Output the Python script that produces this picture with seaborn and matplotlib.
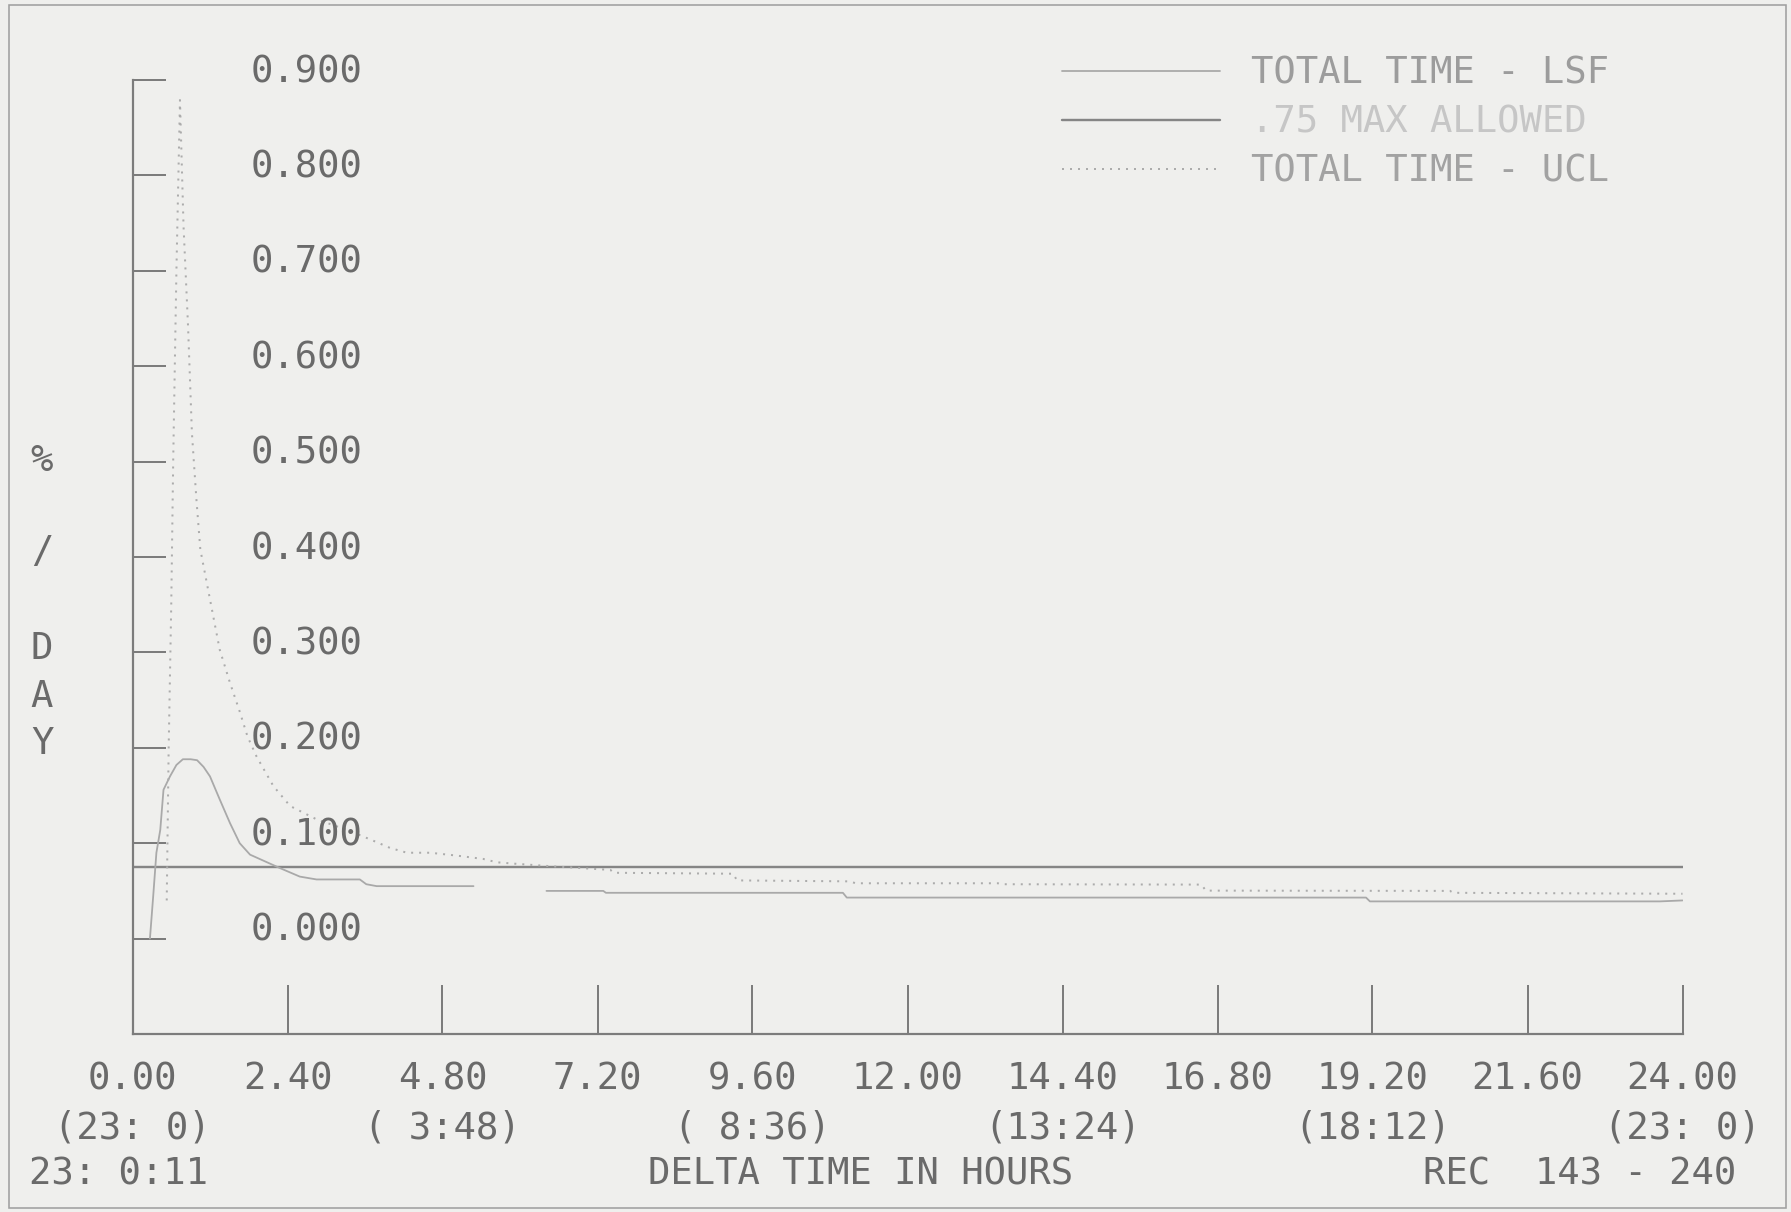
import numpy as np
import pandas as pd
import matplotlib
matplotlib.use("Agg")
import matplotlib.pyplot as plt
import seaborn as sns
from matplotlib.patches import Rectangle

# ---------------- data ----------------
lsf_hours = [0.27, 0.32, 0.37, 0.43, 0.48, 0.58, 0.68, 0.78, 0.90, 1.00,
             1.10, 1.20, 1.35, 1.51, 1.66, 1.82, 2.05, 2.28, 2.59, 2.85,
             3.52, 3.62, 3.78, 5.28,
             6.41, 7.29, 7.33, 11.00, 11.06, 19.10, 19.16, 23.65, 24.00]
lsf_values = [0.000, 0.044, 0.090, 0.114, 0.156, 0.170, 0.182, 0.188, 0.188, 0.187,
              0.180, 0.170, 0.146, 0.121, 0.100, 0.088, 0.081, 0.074, 0.065, 0.062,
              0.062, 0.057, 0.055, 0.055,
              0.050, 0.050, 0.048, 0.048, 0.043, 0.043, 0.039, 0.039, 0.040]
lsf_segment = [1] * 24 + [2] * 9

ucl_hours = [0.53, 0.56, 0.60, 0.63, 0.68, 0.735, 0.79, 0.86, 0.92, 0.99,
             1.05, 1.15, 1.25, 1.35, 1.51, 1.66, 1.78, 1.92, 2.18, 2.44,
             2.85, 3.32, 3.68, 3.99, 4.25, 4.61, 5.02, 5.43, 5.64, 5.90,
             6.45, 7.40, 7.45, 9.30, 9.36, 11.10, 11.20, 13.40, 13.45, 16.55,
             16.62, 20.40, 20.45, 24.00]
ucl_values = [0.040, 0.200, 0.350, 0.500, 0.700, 0.879, 0.747, 0.642, 0.530, 0.460,
              0.408, 0.373, 0.338, 0.303, 0.268, 0.238, 0.212, 0.191, 0.160, 0.139,
              0.125, 0.114, 0.104, 0.095, 0.090, 0.090, 0.087, 0.0835, 0.080, 0.0786,
              0.076, 0.072, 0.069, 0.068, 0.061, 0.060, 0.058, 0.058, 0.057, 0.0566,
              0.0503, 0.050, 0.048, 0.047]

max_hours = [0.0, 24.0]
max_values = [0.075, 0.075]

x_ticks = [0.0, 2.4, 4.8, 7.2, 9.6, 12.0, 14.4, 16.8, 19.2, 21.6, 24.0]
x_tick_labels = ["0.00", "2.40", "4.80", "7.20", "9.60", "12.00",
                 "14.40", "16.80", "19.20", "21.60", "24.00"]
clock_ticks = [0.0, 4.8, 9.6, 14.4, 19.2, 24.0]
clock_labels = ["(23: 0)", "( 3:48)", "( 8:36)", "(13:24)", "(18:12)", "(23: 0)"]
y_ticks = [0.0, 0.1, 0.2, 0.3, 0.4, 0.5, 0.6, 0.7, 0.8, 0.9]
y_tick_labels = ["0.000", "0.100", "0.200", "0.300", "0.400",
                 "0.500", "0.600", "0.700", "0.800", "0.900"]
legend_labels = ["TOTAL TIME - LSF", ".75 MAX ALLOWED", "TOTAL TIME - UCL"]
y_label_chars = ["%", "/", "D", "A", "Y"]
footer_left = "23: 0:11"
footer_mid = "DELTA TIME IN HOURS"
footer_right = "REC  143 - 240"

# ---------------- style ----------------
W, H, DPI = 1791, 1212, 100
PX = 72.0 / DPI          # points per pixel
FS = 37.2 * PX           # font size (pt)
HALF_CAP = 13.6          # px
BG = "#efefed"
AXC = "#7c7c7c"
TXT = "#6a6a6a"
MAXC = "#858585"
LSFC = "#a9a9a9"
UCLC = "#acacac"

sns.set_theme(style="white")
plt.rcParams["font.family"] = ["DejaVu Sans Mono", "DejaVu Sans"]

fig = plt.figure(figsize=(W / DPI, H / DPI), dpi=DPI, facecolor=BG)
ax = fig.add_axes([132.5 / W, 178 / H, 1550 / W, 954 / H])
ax.set_facecolor(BG)

df_max = pd.DataFrame({"hours": max_hours, "value": max_values})
df_lsf = pd.DataFrame({"hours": lsf_hours, "value": lsf_values, "segment": lsf_segment})
df_ucl = pd.DataFrame({"hours": ucl_hours, "value": ucl_values})

n0 = len(ax.lines)
sns.lineplot(data=df_max, x="hours", y="value", estimator=None, color=MAXC,
             linewidth=2.4 * PX, ax=ax, legend=False)
max_handle = ax.lines[n0]
n1 = len(ax.lines)
sns.lineplot(data=df_lsf, x="hours", y="value", units="segment", estimator=None,
             color=LSFC, linewidth=1.8 * PX, ax=ax, legend=False)
lsf_handle = ax.lines[n1]
n2 = len(ax.lines)
sns.lineplot(data=df_ucl, x="hours", y="value", estimator=None, color=UCLC,
             linewidth=2.0 * PX, ax=ax, legend=False)
ucl_handle = ax.lines[n2]
ucl_handle.set_linestyle((0, (1, 3)))

ax.set_xlim(0, 24)
ax.set_ylim(-0.1, 0.9)
ax.set_xlabel("")
ax.set_ylabel("")

for s in ["top", "right"]:
    ax.spines[s].set_visible(False)
for s in ["left", "bottom"]:
    ax.spines[s].set_color(AXC)
    ax.spines[s].set_linewidth(2.2 * PX)

ax.set_xticks(x_ticks)
ax.set_xticklabels([])
ax.set_yticks(y_ticks)
ax.set_yticklabels([])
ax.tick_params(axis="x", bottom=True, direction="in", length=49 * PX,
               width=2.0 * PX, color=AXC)
ax.tick_params(axis="y", left=True, direction="in", length=33 * PX,
               width=2.0 * PX, color=AXC)

# y tick labels (inside the axes, to the right of the ticks)
for v, lab in zip(y_ticks, y_tick_labels):
    ax.annotate(lab, xy=(0, v), xycoords=("axes fraction", "data"),
                xytext=(118.5 * PX, (11.5 - HALF_CAP) * PX), textcoords="offset points",
                ha="left", va="baseline", fontsize=FS, color=TXT)

# x tick labels: hours and clock time rows
for t, lab in zip(x_ticks, x_tick_labels):
    ax.annotate(lab, xy=(t, 0), xycoords=("data", "axes fraction"),
                xytext=(0, -(42 + HALF_CAP) * PX), textcoords="offset points",
                ha="center", va="baseline", fontsize=FS, color=TXT)
for t, lab in zip(clock_ticks, clock_labels):
    ax.annotate(lab, xy=(t, 0), xycoords=("data", "axes fraction"),
                xytext=(0, -(91 + HALF_CAP) * PX), textcoords="offset points",
                ha="center", va="baseline", fontsize=FS, color=TXT)

# footer
fy = (H - (1171 + HALF_CAP)) / H
fig.text(29 / W, fy, footer_left, ha="left", va="baseline", fontsize=FS, color=TXT)
fig.text(861 / W, fy, footer_mid, ha="center", va="baseline", fontsize=FS, color=TXT)
fig.text(1736 / W, fy, footer_right, ha="right", va="baseline", fontsize=FS, color=TXT)

# vertical y label
for ch, yc in zip(y_label_chars, [457, 548, 645, 693, 740]):
    fig.text(42 / W, (H - (yc + HALF_CAP)) / H, ch, ha="center", va="baseline",
             fontsize=FS, color=TXT)

# legend
leg = ax.legend(handles=[lsf_handle, max_handle, ucl_handle], labels=legend_labels,
                loc="upper left", bbox_to_anchor=(1062 / W, 1 - 55 / H),
                bbox_transform=fig.transFigure, frameon=False, fontsize=FS,
                handlelength=4.25, handletextpad=0.83, labelspacing=0.32,
                borderpad=0, borderaxespad=0)
for txt, c in zip(leg.get_texts(), ["#9c9c9c", "#c6c6c6", "#a2a2a2"]):
    txt.set_color(c)

# page frame
fig.patches.append(Rectangle((9 / W, 4 / H), (1786 - 9) / W, (1207 - 4) / H,
                             transform=fig.transFigure, fill=False,
                             edgecolor="#a0a0a0", linewidth=1.6 * PX))

fig.savefig("out.png", dpi=DPI, facecolor=BG)
